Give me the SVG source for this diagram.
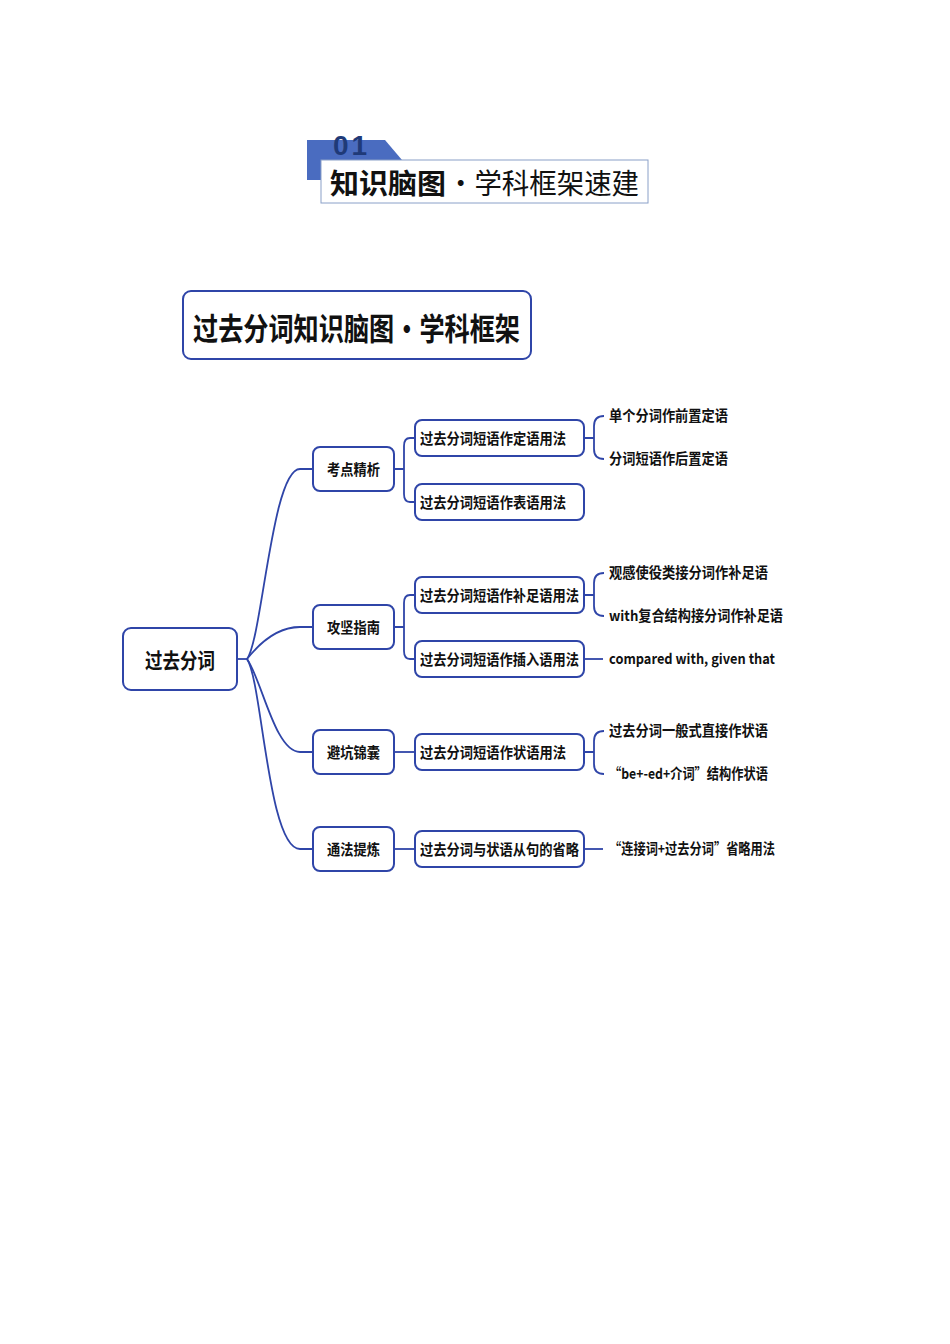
<svg xmlns="http://www.w3.org/2000/svg" width="950" height="1344" viewBox="0 0 950 1344">
<style>
text{font-family:"Noto Sans CJK SC","Liberation Sans",sans-serif;fill:#111}
.b{fill:#fff;stroke:#2f45a8;stroke-width:2}
.c{fill:none;stroke:#2f45a8;stroke-width:1.8}
.t2{font-size:15px;font-weight:bold}
.t3{font-size:14.5px;font-weight:bold}
</style>
<rect width="950" height="1344" fill="#fff"/>
<g id="header">
<path d="M307,140 H385 L402,160 V180 H307 Z" fill="#4a6cc0"/>
<text x="333" y="155" style="font-family:'Liberation Sans',sans-serif;font-size:28px;font-weight:bold;fill:#1f3a78;letter-spacing:3px">01</text>
<rect x="321" y="160" width="327" height="43" fill="#fff" stroke="#8aa0c8" stroke-width="1"/>
<text x="330" y="194" style="font-size:28px;font-weight:bold" textLength="116" lengthAdjust="spacingAndGlyphs">知识脑图</text>
<text x="447" y="194" style="font-size:28px" textLength="192" lengthAdjust="spacingAndGlyphs">·学科框架速建</text>
</g>
<g id="title">
<rect x="183" y="291" width="348" height="68" rx="8" class="b" stroke-width="2.5"/>
<text x="193" y="340" style="font-size:31px;font-weight:bold" textLength="327" lengthAdjust="spacingAndGlyphs">过去分词知识脑图·学科框架</text>
</g>
<g id="connectors">
<path class="c" d="M237,659 H247"/>
<path class="c" d="M247,659 C262,640 272,469 300,469 H313"/>
<path class="c" d="M247,659 C262,640 280,627 300,627 H313"/>
<path class="c" d="M247,659 C262,680 275,752 300,752 H313"/>
<path class="c" d="M247,659 C262,680 268,849 300,849 H313"/>
<path class="c" d="M394,469 H404 M415,438 H410 Q404,438 404,446 V494 Q404,502 410,502 H415"/>
<path class="c" d="M394,627 H404 M415,595 H410 Q404,595 404,603 V651 Q404,659 410,659 H415"/>
<path class="c" d="M394,752 H415"/>
<path class="c" d="M394,849 H415"/>
<path class="c" d="M584,438 H594 M604,416 Q594,416 594,426 V449 Q594,459 604,459"/>
<path class="c" d="M584,595 H594 M604,573 Q594,573 594,583 V606 Q594,616 604,616"/>
<path class="c" d="M584,659 H603"/>
<path class="c" d="M584,752 H594 M604,731 Q594,731 594,741 V764 Q594,774 604,774"/>
<path class="c" d="M584,849 H603"/>
</g>
<g id="root"><rect x="123" y="628" width="114" height="62" rx="8" class="b" stroke-width="2.5"/><text x="145" y="668" style="font-size:21px;font-weight:bold" textLength="70" lengthAdjust="spacingAndGlyphs">过去分词</text></g>
<g id="n1"><rect x="313" y="447" width="81" height="44" rx="7" class="b"/><text x="327" y="475" class="t2" textLength="53" lengthAdjust="spacingAndGlyphs">考点精析</text></g>
<g id="n2"><rect x="313" y="605" width="81" height="44" rx="7" class="b"/><text x="327" y="633" class="t2" textLength="53" lengthAdjust="spacingAndGlyphs">攻坚指南</text></g>
<g id="n3"><rect x="313" y="730" width="81" height="44" rx="7" class="b"/><text x="327" y="758" class="t2" textLength="53" lengthAdjust="spacingAndGlyphs">避坑锦囊</text></g>
<g id="n4"><rect x="313" y="827" width="81" height="44" rx="7" class="b"/><text x="327" y="855" class="t2" textLength="53" lengthAdjust="spacingAndGlyphs">通法提炼</text></g>
<g id="n11"><rect x="415" y="420" width="169" height="36" rx="7" class="b"/><text x="420" y="444" class="t2" textLength="146" lengthAdjust="spacingAndGlyphs">过去分词短语作定语用法</text></g>
<g id="n12"><rect x="415" y="484" width="169" height="36" rx="7" class="b"/><text x="420" y="508" class="t2" textLength="146" lengthAdjust="spacingAndGlyphs">过去分词短语作表语用法</text></g>
<g id="n21"><rect x="415" y="577" width="169" height="36" rx="7" class="b"/><text x="420" y="601" class="t2" textLength="159" lengthAdjust="spacingAndGlyphs">过去分词短语作补足语用法</text></g>
<g id="n22"><rect x="415" y="641" width="169" height="36" rx="7" class="b"/><text x="420" y="665" class="t2" textLength="159" lengthAdjust="spacingAndGlyphs">过去分词短语作插入语用法</text></g>
<g id="n31"><rect x="415" y="734" width="169" height="36" rx="7" class="b"/><text x="420" y="758" class="t2" textLength="146" lengthAdjust="spacingAndGlyphs">过去分词短语作状语用法</text></g>
<g id="n41"><rect x="415" y="831" width="169" height="36" rx="7" class="b"/><text x="420" y="855" class="t2" textLength="159" lengthAdjust="spacingAndGlyphs">过去分词与状语从句的省略</text></g>
<g id="leaves">
<text x="609" y="421" class="t3" textLength="119" lengthAdjust="spacingAndGlyphs">单个分词作前置定语</text>
<text x="609" y="464" class="t3" textLength="119" lengthAdjust="spacingAndGlyphs">分词短语作后置定语</text>
<text x="609" y="578" class="t3" textLength="159" lengthAdjust="spacingAndGlyphs">观感使役类接分词作补足语</text>
<text x="609" y="621" class="t3" textLength="174" lengthAdjust="spacingAndGlyphs">with复合结构接分词作补足语</text>
<text x="609" y="664" class="t3" textLength="166" lengthAdjust="spacingAndGlyphs">compared with, given that</text>
<text x="609" y="736" class="t3" textLength="159" lengthAdjust="spacingAndGlyphs">过去分词一般式直接作状语</text>
<text x="609" y="779" class="t3" textLength="159" lengthAdjust="spacingAndGlyphs">“be+-ed+介词”结构作状语</text>
<text x="609" y="854" class="t3" textLength="166" lengthAdjust="spacingAndGlyphs">“连接词+过去分词”省略用法</text>
</g>
</svg>
